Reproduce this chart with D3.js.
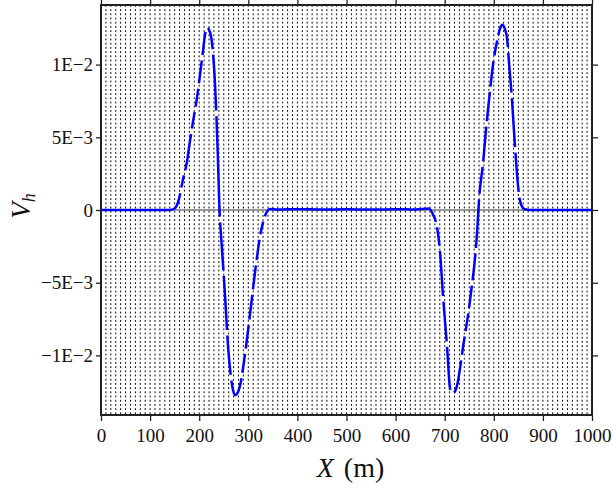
<!DOCTYPE html>
<html>
<head>
<meta charset="utf-8">
<script src="https://cdn.jsdelivr.net/npm/d3@7"></script>
<style>
  body { margin: 0; background: #fff; }
  svg text { font-family: "Liberation Serif", "Times New Roman", Times, "DejaVu Serif", serif; fill: #111; }
</style>
</head>
<body>
<script>
// values (X in m, Vh dimensionless)
var xValues = [0, 100, 140, 150, 157, 167, 175, 181, 187, 195, 202, 208, 212, 216, 220, 226, 232, 238, 241, 245,
    249, 253, 259, 264, 269, 273, 278, 283, 293, 303, 314, 324, 334, 344, 360, 400, 450, 500, 550, 600,
    640, 660, 668, 676, 684, 690, 697, 705, 711, 717, 725, 737, 752, 766, 770, 778, 786, 792, 798, 806,
    812, 817, 822, 827, 832, 837, 841, 845, 849, 853, 858, 863, 874, 900, 1000];
var vhValues = [0, 0, 0, 0.0001, 0.00055, 0.0021, 0.0033, 0.0047, 0.0060, 0.0076, 0.0094, 0.0110, 0.0121, 0.01253, 0.0124, 0.0115, 0.0088, 0.0037, 0.0003, -0.0020,
    -0.0040, -0.0061, -0.0095, -0.0113, -0.0124, -0.01274, -0.0126, -0.0121, -0.0100, -0.0073, -0.0042, -0.0018, -0.0004, 0.00007, 0.00003, 0.00006, 0.00003, 0.00005, 0.00003, 0.00005,
    0.00004, 0.00008, 0.0001, -0.0003, -0.0011, -0.0027, -0.0061, -0.0095, -0.0123, -0.0126, -0.0121, -0.0095, -0.0061, -0.0015, 0.00075, 0.0032, 0.0062, 0.0081, 0.0099, 0.0115,
    0.0124, 0.01274, 0.0125, 0.0118, 0.0097, 0.0076, 0.0055, 0.0035, 0.0018, 0.0007, 0.0002, 0.00005, 0, 0, 0];

var xTicks = [0, 100, 200, 300, 400, 500, 600, 700, 800, 900, 1000];
var yTicks = [0.01, 0.005, 0, -0.005, -0.01];
var yTickLabels = ["1E\u22122", "5E\u22123", "0", "\u22125E\u22123", "\u22121E\u22122"];

var width = 613, height = 492;
var margin = {left: 101, right: 21, top: 5, bottom: 77};
var serif = "'Liberation Serif', 'Times New Roman', Times, serif";

var svg = d3.select("body").append("svg")
    .attr("width", width)
    .attr("height", height);

var x = d3.scaleLinear().domain([0, 1000]).range([margin.left, width - margin.right]);
var y = d3.scaleLinear().domain([-0.0141, 0.0141]).range([height - margin.bottom, margin.top]);

// dotted grid, one line every 10 m
var grid = svg.append("g").attr("class", "grid");
d3.range(10, 1000, 10).forEach(function(v) {
    grid.append("line")
        .attr("x1", x(v)).attr("x2", x(v))
        .attr("y1", y.range()[1]).attr("y2", y.range()[0])
        .attr("stroke", "#000")
        .attr("stroke-width", 1)
        .attr("stroke-dasharray", "1.8,2.4");
});

// zero line
svg.append("line")
    .attr("x1", x(0)).attr("x2", x(1000))
    .attr("y1", y(0)).attr("y2", y(0))
    .attr("stroke", "#777")
    .attr("stroke-width", 1.6);

// the curve
var points = xValues.map(function(d, i) { return [d, vhValues[i]]; });
var line = d3.line()
    .x(function(d) { return x(d[0]); })
    .y(function(d) { return y(d[1]); })
    .curve(d3.curveMonotoneX);

var path = svg.append("path")
    .datum(points)
    .attr("d", line)
    .attr("fill", "none")
    .attr("stroke", "#0000ff")
    .attr("stroke-width", 2.5);

// gaps only where the curve is steep (the flat parts look solid in the picture)
var node = path.node();
var L = node.getTotalLength();
var P = 3.6, G = 5.5;
var dashes = [], last = 0, prevCell = null;
for (var s = 0; s <= L; s += 0.5) {
    var p = node.getPointAtLength(s);
    var cell = Math.floor((p.x - x(0)) / P);
    if (prevCell !== null && cell !== prevCell) {
        var a = node.getPointAtLength(Math.max(0, s - 2));
        var b = node.getPointAtLength(Math.min(L, s + 2));
        var slope = Math.abs(b.y - a.y) / (Math.abs(b.x - a.x) + 1e-6);
        if (slope > 3 && s - last > 12) {
            dashes.push(s - last, G);
            last = s + G;
        }
    }
    prevCell = cell;
}
dashes.push(L - last + 10, 10);
path.attr("stroke-dasharray", dashes.join(","));

// axes
var fontSize = 19;
var axBottom = svg.append("g")
    .attr("transform", "translate(0," + y.range()[0] + ")")
    .call(d3.axisBottom(x).tickValues(xTicks).tickFormat(d3.format("d")).tickSize(6).tickPadding(8));
var axLeft = svg.append("g")
    .attr("transform", "translate(" + x.range()[0] + ",0)")
    .call(d3.axisLeft(y).tickValues(yTicks).tickFormat(function(d, i) { return yTickLabels[i]; }).tickSize(5).tickPadding(3));
var axTop = svg.append("g")
    .attr("transform", "translate(0," + y.range()[1] + ")")
    .call(d3.axisTop(x).tickValues(xTicks).tickFormat("").tickSize(6));
var axRight = svg.append("g")
    .attr("transform", "translate(" + x.range()[1] + ",0)")
    .call(d3.axisRight(y).tickValues(yTicks).tickFormat("").tickSize(6));

[axBottom, axLeft, axTop, axRight].forEach(function(ax) {
    ax.attr("font-family", serif);
    ax.select(".domain").remove();
    ax.selectAll(".tick line").attr("stroke", "#222").attr("stroke-width", 1.3);
    ax.selectAll("text")
        .style("font-family", serif)
        .attr("font-size", fontSize)
        .attr("fill", "#111");
});

// frame
svg.append("rect")
    .attr("x", x.range()[0]).attr("y", y.range()[1])
    .attr("width", x.range()[1] - x.range()[0])
    .attr("height", y.range()[0] - y.range()[1])
    .attr("fill", "none")
    .attr("stroke", "#222")
    .attr("stroke-width", 2);

// axis titles
var xt = svg.append("text")
    .attr("x", (x.range()[0] + x.range()[1]) / 2 + 4)
    .attr("y", 477)
    .attr("text-anchor", "middle")
    .style("font-family", serif)
    .attr("font-size", 28);
xt.append("tspan").attr("font-style", "italic").text("X");
xt.append("tspan").attr("dx", 10).text("(m)");

var yt = svg.append("text")
    .attr("transform", "translate(30,206) rotate(-90)")
    .attr("text-anchor", "middle")
    .style("font-family", serif)
    .attr("font-size", 27);
yt.append("tspan").attr("font-style", "italic").text("V");
yt.append("tspan").attr("font-style", "italic").attr("font-size", 18).attr("dy", 5).text("h");
</script>
</body>
</html>
